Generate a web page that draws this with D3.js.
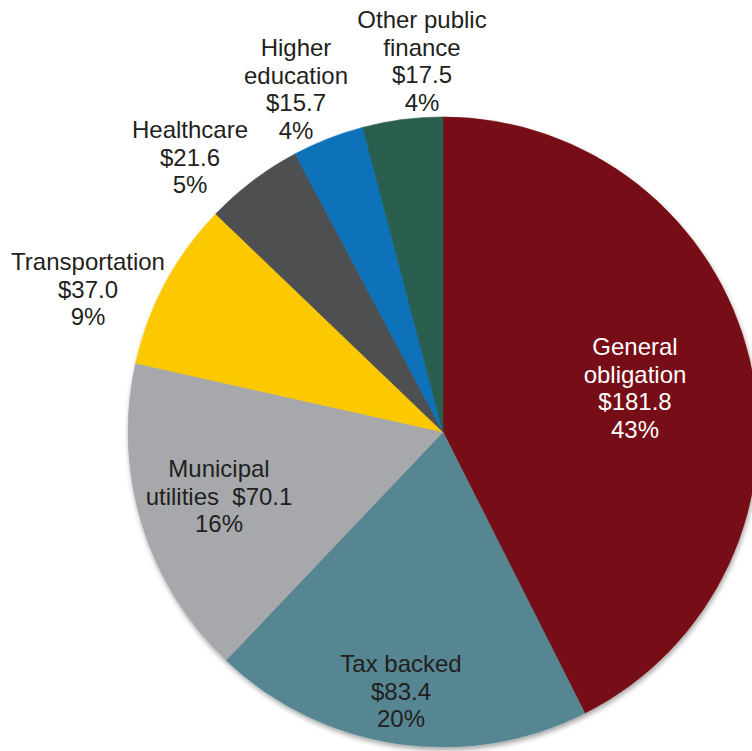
<!DOCTYPE html>
<html>
<head>
<meta charset="utf-8">
<script src="https://cdn.jsdelivr.net/npm/d3@7"></script>
<style>
  html, body { margin: 0; padding: 0; background: #ffffff; }
  svg { display: block; }
  text { font-family: "Liberation Sans", Arial, Helvetica, sans-serif; }
</style>
</head>
<body>
<div id="chart"></div>
<script>
// Municipal debt issuance by sector ($ billions)
const categories = [
  "General obligation",
  "Tax backed",
  "Municipal utilities",
  "Transportation",
  "Healthcare",
  "Higher education",
  "Other public finance"
];
const values = [181.8, 83.4, 70.1, 37.0, 21.6, 15.7, 17.5];
const colors = ["#771113", "#548692", "#a6a8ab", "#fcc900", "#4d5051", "#0a72b9", "#2a5e50"];

// How each label's name breaks across lines
const nameLines = [
  ["General", "obligation"],
  ["Tax backed"],
  ["Municipal", "utilities"],
  ["Transportation"],
  ["Healthcare"],
  ["Higher", "education"],
  ["Other public", "finance"]
];

// Label placement: offset of the first baseline from the pie centre,
// whether the value shares the last name line, and text colour
const labelLayout = [
  { dx: 192,  dy: -77,  inline: false, fill: "#ffffff" },
  { dx: -42,  dy: 240,  inline: false, fill: "#231f20" },
  { dx: -224, dy: 45,   inline: true,  fill: "#231f20" },
  { dx: -355, dy: -162, inline: false, fill: "#231f20" },
  { dx: -253, dy: -294, inline: false, fill: "#231f20" },
  { dx: -147, dy: -376, inline: false, fill: "#231f20" },
  { dx: -21,  dy: -404, inline: false, fill: "#231f20" }
];

const width = 752, height = 751;
const cx = 443, cy = 432, radius = 315;
const fontSize = 24, lineHeight = 27.6;

const total = d3.sum(values);
const data = categories.map((c, i) => ({ name: c, value: values[i], i }));

const svg = d3.select("#chart").append("svg")
  .attr("width", width)
  .attr("height", height);

const defs = svg.append("defs");
const shadow = defs.append("filter")
  .attr("id", "pie-shadow")
  .attr("x", "-10%").attr("y", "-10%")
  .attr("width", "120%").attr("height", "120%");
shadow.append("feDropShadow")
  .attr("dx", 1).attr("dy", 3)
  .attr("stdDeviation", 2.5)
  .attr("flood-color", "#000")
  .attr("flood-opacity", 0.35);

const pie = d3.pie()
  .sort(null)
  .value(d => d.value)
  .startAngle(0)
  .endAngle(2 * Math.PI);

const arc = d3.arc().innerRadius(0).outerRadius(radius);

const g = svg.append("g").attr("transform", `translate(${cx},${cy})`);

g.append("g")
  .attr("filter", "url(#pie-shadow)")
  .selectAll("path")
  .data(pie(data))
  .join("path")
  .attr("d", arc)
  .attr("fill", d => colors[d.data.i])
  .attr("stroke", d => colors[d.data.i])
  .attr("stroke-width", 0.6);

const fmtMoney = v => "$" + v.toFixed(1);
const fmtPct = v => Math.round(v / total * 100) + "%";

const labels = g.append("g")
  .selectAll("text")
  .data(data)
  .join("text")
  .attr("text-anchor", "middle")
  .attr("font-size", fontSize)
  .attr("fill", d => labelLayout[d.i].fill)
  .attr("transform", d => `translate(${labelLayout[d.i].dx},${labelLayout[d.i].dy})`);

labels.each(function(d) {
  const lay = labelLayout[d.i];
  const names = nameLines[d.i].slice();
  let lines;
  if (lay.inline) {
    names[names.length - 1] = names[names.length - 1] + "\u00a0\u00a0" + fmtMoney(d.value);
    lines = names.concat([fmtPct(d.value)]);
  } else {
    lines = names.concat([fmtMoney(d.value), fmtPct(d.value)]);
  }
  d3.select(this).selectAll("tspan")
    .data(lines)
    .join("tspan")
    .attr("x", 0)
    .attr("y", (t, k) => k * lineHeight)
    .text(t => t);
});
</script>
</body>
</html>
